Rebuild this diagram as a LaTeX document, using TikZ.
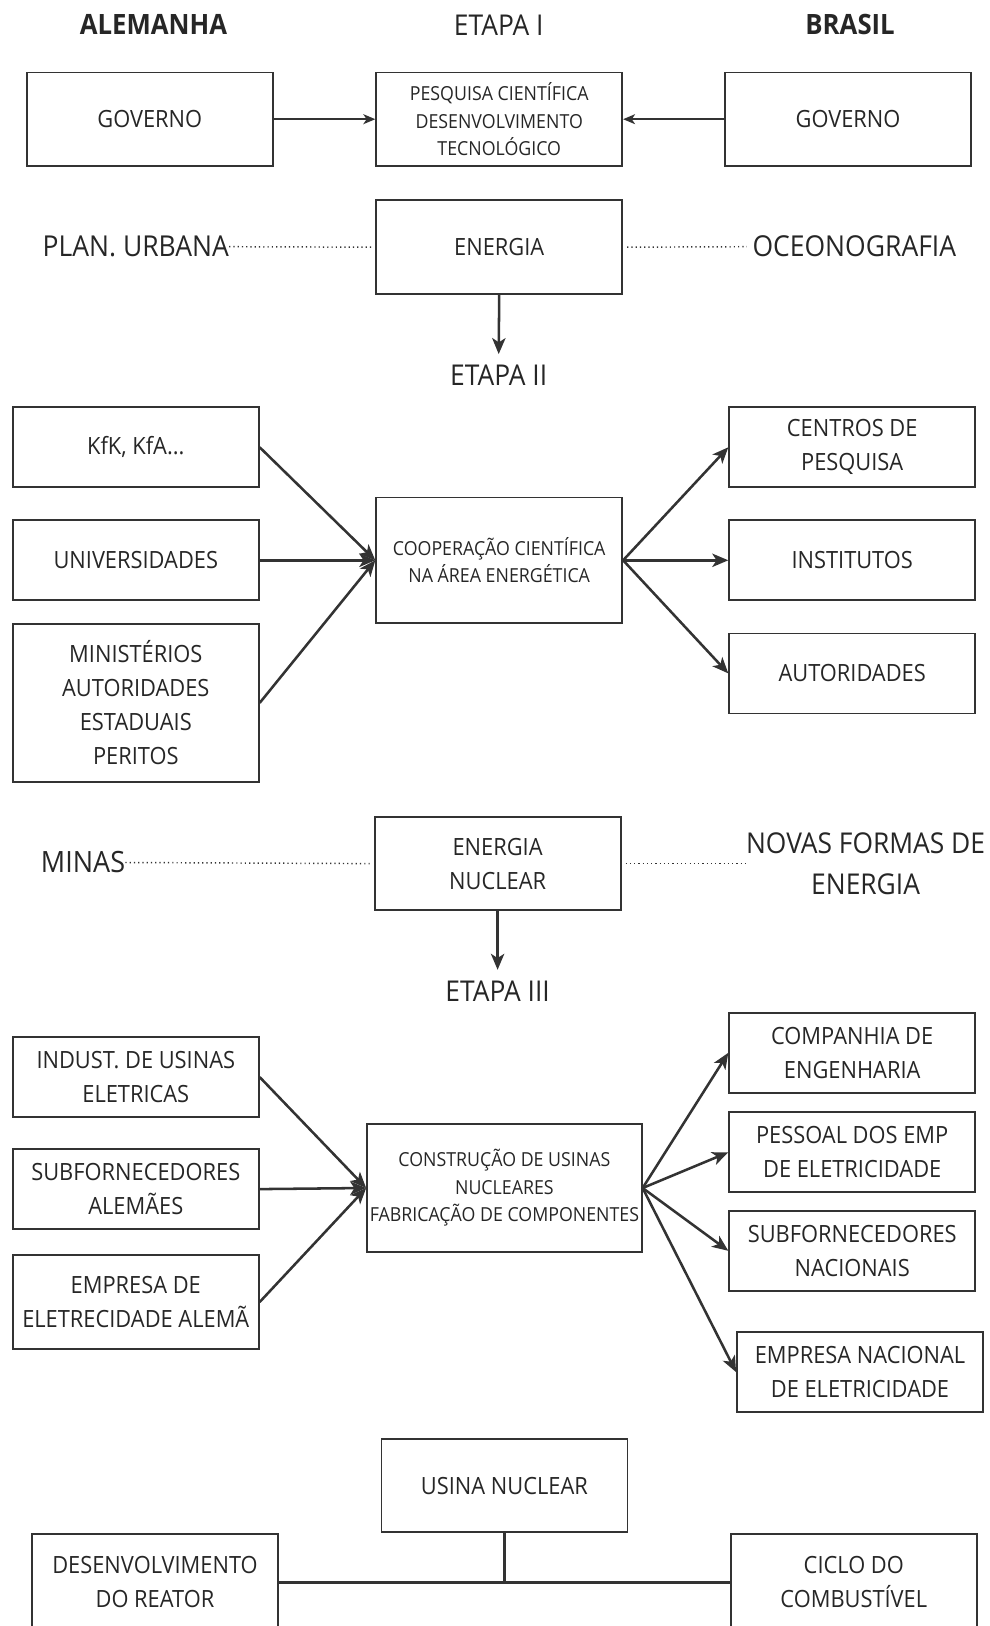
\documentclass[tikz,border=0pt]{standalone}
\usepackage{fontspec}
\setmainfont{Open Sans}[FakeStretch=0.92]
\usetikzlibrary{arrows.meta}
\definecolor{ink}{HTML}{262626}
\definecolor{edge}{HTML}{333333}
\tikzset{
  box/.style={draw=edge, line width=1.35pt, text=ink, align=center, inner sep=0pt,
    minimum width=184.5pt, minimum height=60pt, font=\fontsize{17.8}{25.5}\selectfont},
  smalltxt/.style={font=\fontsize{14.5}{20.6}\selectfont},
  head/.style={text=ink, inner sep=0pt, font=\fontsize{21.5}{26}\selectfont},
  side/.style={text=ink, inner sep=0pt, align=center, font=\fontsize{21.6}{31}\selectfont},
  thinarr/.style={draw=edge, line width=1.1pt, -{Stealth[length=9pt, width=7.5pt, inset=2.5pt]}},
  arr/.style={draw=edge, line width=1.9pt, -{Stealth[length=12pt, width=10pt, inset=3.2pt]}},
  dots/.style={draw=edge, line width=1.1pt, dash pattern=on 0.9pt off 2.3pt},
  link/.style={draw=edge, line width=2.3pt},
}
\begin{document}
\begin{tikzpicture}[x=0.75pt, y=-0.75pt]
\useasboundingbox (0,0) rectangle (989,1626);

% headers
\node[head, font=\fontsize{21}{26}\selectfont\bfseries] (hal) at (153.4,24.9) {ALEMANHA};
\node[head] (he1) at (498.7,24.9) {ETAPA I};
\node[head, font=\fontsize{21}{26}\selectfont\bfseries] (hbr) at (850.1,24.9) {BRASIL};

% stage I
\node[box, minimum height=70pt] (govl) at (149.8,119.2) {GOVERNO};
\node[box, smalltxt, minimum height=70pt] (pesq) at (499.2,119.2) {PESQUISA CIENTÍFICA\\DESENVOLVIMENTO\\TECNOLÓGICO};
\node[box, minimum height=70pt] (govr) at (848,119.2) {GOVERNO};
\draw[thinarr] (govl.east) -- (pesq.west);
\draw[thinarr] (govr.west) -- (pesq.east);

\node[box, minimum height=70.7pt] (ener) at (499.2,247.2) {ENERGIA};
\node[side] (plan) at (135.75,246.7) {PLAN. URBANA};
\node[side] (ocea) at (854.3,246.7) {OCEONOGRAFIA};
\draw[dots] (plan.east) -- ([xshift=-2.5pt]ener.west);
\draw[dots] ([xshift=3pt]ener.east) -- ([xshift=-4pt]ocea.west);

\node[head] (e2) at (498.7,375.3) {ETAPA II};
\draw[arr] (ener.south) -- ([yshift=8pt]e2.north);

% stage II
\node[box] (kfk) at (135.8,447.3) {KfK, KfA...};
\node[box] (univ) at (135.8,560.3) {UNIVERSIDADES};
\node[box, minimum height=118.2pt] (mini) at (135.8,702.9) {MINISTÉRIOS\\AUTORIDADES\\ESTADUAIS\\PERITOS};
\node[box, smalltxt, minimum height=94.1pt] (coop) at (499.2,560.3) {COOPERAÇÃO CIENTÍFICA\\NA ÁREA ENERGÉTICA};
\node[box] (cent) at (852.2,447.3) {CENTROS DE\\PESQUISA};
\node[box] (inst) at (852.2,560.3) {INSTITUTOS};
\node[box] (auto) at (852.2,673.4) {AUTORIDADES};
\draw[arr] (kfk.east) -- (coop.west);
\draw[arr] (univ.east) -- (coop.west);
\draw[arr] (mini.east) -- (coop.west);
\draw[arr] (coop.east) -- (cent.west);
\draw[arr] (coop.east) -- (inst.west);
\draw[arr] (coop.east) -- (auto.west);

% nuclear energy
\node[box, minimum height=70pt] (enuc) at (497.6,863.6) {ENERGIA\\NUCLEAR};
\node[side, font=\fontsize{22}{31}\selectfont] (mina) at (83,862.5) {MINAS};
\node[side, font=\fontsize{21.5}{31}\selectfont] (nova) at (865.6,863.6) {NOVAS FORMAS DE\\ENERGIA};
\draw[dots] (mina.east) -- ([xshift=-3pt]enuc.west);
\draw[dots] ([xshift=3pt]enuc.east) -- (nova.west);

\node[head] (e3) at (497.6,991) {ETAPA III};
\draw[arr] (enuc.south) -- ([yshift=8pt]e3.north);

% stage III
\node[box] (indu) at (135.8,1077.1) {INDUST. DE USINAS\\ELETRICAS};
\node[box] (subal) at (135.8,1189.1) {SUBFORNECEDORES\\ALEMÃES};
\node[box, minimum height=70pt] (empal) at (135.8,1302) {EMPRESA DE\\ELETRECIDADE ALEMÃ};
\node[box, smalltxt, minimum width=206pt, minimum height=96.4pt] (cons) at (504.4,1188) {CONSTRUÇÃO DE USINAS\\NUCLEARES\\FABRICAÇÃO DE COMPONENTES};
\node[box] (comp) at (852.2,1052.8) {COMPANHIA DE\\ENGENHARIA};
\node[box] (pess) at (852.2,1152.3) {PESSOAL DOS EMP\\DE ELETRICIDADE};
\node[box] (subna) at (852.2,1250.8) {SUBFORNECEDORES\\NACIONAIS};
\node[box] (empna) at (860,1372.1) {EMPRESA NACIONAL\\DE ELETRICIDADE};
\draw[arr] (indu.east) -- (cons.west);
\draw[arr] (subal.east) -- (cons.west);
\draw[arr] (empal.east) -- (cons.west);
\draw[arr] (cons.east) -- (comp.west);
\draw[arr] (cons.east) -- (pess.west);
\draw[arr] (cons.east) -- (subna.west);
\draw[arr] (cons.east) -- (empna.west);

% bottom
\node[box, minimum height=70pt] (usin) at (504.4,1485.6) {USINA NUCLEAR};
\node[box, minimum height=72pt] (dese) at (155,1582.3) {DESENVOLVIMENTO\\DO REATOR};
\node[box, minimum height=72pt] (cicl) at (853.8,1582.3) {CICLO DO\\COMBUSTÍVEL};
\draw[link] (dese.east) -- (cicl.west);
\draw[link] (usin.south) -- (usin.south |- dese.east);
\end{tikzpicture}
\end{document}
